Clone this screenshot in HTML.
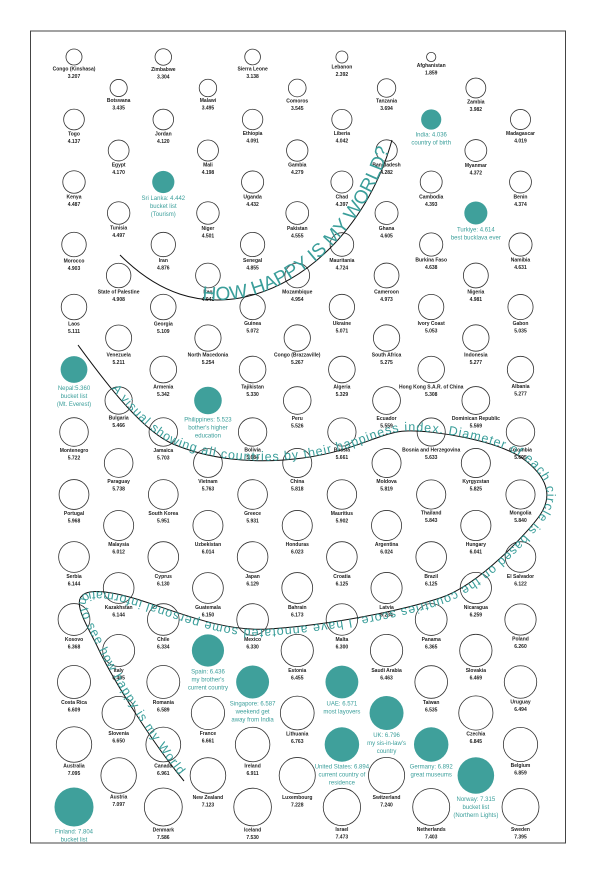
<!DOCTYPE html>
<html><head><meta charset="utf-8">
<style>
html,body{margin:0;padding:0;background:#fff;}
svg{display:block;}
.lbl{font-family:"Liberation Sans",sans-serif;font-size:5px;fill:#222;font-weight:bold;text-anchor:middle;}
.hl{font-family:"Liberation Sans",sans-serif;font-size:6px;fill:#3a9e9a;text-anchor:middle;}
</style></head>
<body>
<svg id="chart" width="596" height="870" viewBox="0 0 596 870">
<rect x="30.5" y="31" width="535" height="812" fill="none" stroke="#444" stroke-width="1"/>
<g id="bubbles"></g>
<path id="arc1" d="M120,255 C160,295 200,305 240,298 C310,285 370,220 392,140" fill="none" stroke="#111" stroke-width="1"/>
<text font-family="Liberation Sans, sans-serif" font-size="19" fill="#3a9e9a"><textPath href="#arc1" startOffset="95">HOW HAPPY IS MY WORLD?</textPath></text>
<path id="arc2" d="M78,345 C100,375 140,430 173,444 S250,465 303,458 S380,432 406,431 S500,440 526,461 S550,500 540,515 S480,585 440,598 S330,625 269,629 S150,597 105,592 S85,620 98,648 S150,740 184,781" fill="none" stroke="#111" stroke-width="1"/>
<text id="sub" font-family="Liberation Sans, sans-serif" font-size="12.5" fill="#3a9e9a"><textPath id="subtp" href="#arc2" startOffset="55">A visual showing all countries by their happiness index. Diameter of each circle is based on the countries score. I have annotated some personal information to see how happy is my World</textPath></text>
</svg>
<script>
// Slot order per band: even columns 0,2,4,6,8,10 then odd columns 1,3,5,7,9
const countries = [
"Congo (Kinshasa)","Zimbabwe","Sierra Leone","Lebanon","Afghanistan","",
"Botswana","Malawi","Comoros","Tanzania","Zambia",
"Togo","Jordan","Ethiopia","Liberia","India","Madagascar",
"Egypt","Mali","Gambia","Bangladesh","Myanmar",
"Kenya","Sri Lanka","Uganda","Chad","Cambodia","Benin",
"Tunisia","Niger","Pakistan","Ghana","Turkiye",
"Morocco","Iran","Senegal","Mauritania","Burkina Faso","Namibia",
"State of Palestine","Iraq","Mozambique","Cameroon","Nigeria",
"Laos","Georgia","Guinea","Ukraine","Ivory Coast","Gabon",
"Venezuela","North Macedonia","Congo (Brazzaville)","South Africa","Indonesia",
"Nepal","Armenia","Tajikistan","Algeria","Hong Kong S.A.R. of China","Albania",
"Bulgaria","Philippines","Peru","Ecuador","Dominican Republic",
"Montenegro","Jamaica","Bolivia","Russia","Bosnia and Herzegovina","Colombia",
"Paraguay","Vietnam","China","Moldova","Kyrgyzstan",
"Portugal","South Korea","Greece","Mauritius","Thailand","Mongolia",
"Malaysia","Uzbekistan","Honduras","Argentina","Hungary",
"Serbia","Cyprus","Japan","Croatia","Brazil","El Salvador",
"Kazakhstan","Guatemala","Bahrain","Latvia","Nicaragua",
"Kosovo","Chile","Mexico","Malta","Panama","Poland",
"Italy","Spain","Estonia","Saudi Arabia","Slovakia",
"Costa Rica","Romania","Singapore","UAE","Taiwan","Uruguay",
"Slovenia","France","Lithuania","UK","Czechia",
"Australia","Canada","Ireland","United States","Germany","Belgium",
"Austria","New Zealand","Luxembourg","Switzerland","Norway",
"Finland","Denmark","Iceland","Israel","Netherlands","Sweden"
];
const scores = [
3.207,3.304,3.138,2.392,1.859,0,
3.435,3.495,3.545,3.694,3.982,
4.137,4.120,4.091,4.042,4.036,4.019,
4.170,4.198,4.279,4.282,4.372,
4.487,4.442,4.432,4.397,4.393,4.374,
4.497,4.501,4.555,4.605,4.614,
4.903,4.876,4.855,4.724,4.638,4.631,
4.908,4.941,4.954,4.973,4.981,
5.111,5.109,5.072,5.071,5.053,5.035,
5.211,5.254,5.267,5.275,5.277,
5.360,5.342,5.330,5.329,5.308,5.277,
5.466,5.523,5.526,5.559,5.569,
5.722,5.703,5.684,5.661,5.633,5.695,
5.738,5.763,5.818,5.819,5.825,
5.968,5.951,5.931,5.902,5.843,5.840,
6.012,6.014,6.023,6.024,6.041,
6.144,6.130,6.129,6.125,6.125,6.122,
6.144,6.150,6.173,6.234,6.259,
6.368,6.334,6.330,6.300,6.365,6.260,
6.405,6.436,6.455,6.463,6.469,
6.609,6.589,6.587,6.571,6.535,6.494,
6.650,6.661,6.763,6.796,6.845,
7.095,6.961,6.911,6.894,6.892,6.859,
7.097,7.123,7.228,7.240,7.315,
7.804,7.586,7.530,7.473,7.403,7.395
];
const notes = {
"India":["India: 4.036","country of birth"],
"Sri Lanka":["Sri Lanka: 4.442","bucket list","(Tourism)"],
"Turkiye":["Turkiye: 4.614","best bucklava ever"],
"Nepal":["Nepal:5.360","bucket list","(Mt. Everest)"],
"Philippines":["Philippines: 5.523","bother's higher","education"],
"Spain":["Spain: 6.436","my brother's","current country"],
"Singapore":["Singapore: 6.587","weekend get","away from India"],
"UAE":["UAE: 6.571","most layovers"],
"UK":["UK: 6.796","my sis-in-law's","country"],
"United States":["United States: 6.894","current country of","residence"],
"Germany":["Germany: 6.892","great museums"],
"Norway":["Norway: 7.315","bucket list","(Northern Lights)"],
"Finland":["Finland: 7.804","bucket list"]
};
const NS="http://www.w3.org/2000/svg";
const g=document.getElementById('bubbles');
const colX=c=>74+44.65*c;
const bandY=(b,odd)=>57+62.5*b+(odd?31:0);
const rScale=s=>2.5*s;
const slotCols=[0,2,4,6,8,10,1,3,5,7,9];
function slug(s){return s.toLowerCase().replace(/[^a-z0-9]+/g,'-').replace(/^-|-$/g,'');}
countries.forEach((name,i)=>{
  if(!name) return;
  const band=Math.floor(i/11), k=i%11, col=slotCols[k], odd=col%2===1;
  const cx=colX(col), cy=bandY(band,odd), r=rScale(scores[i]);
  const note=notes[name];
  const c=document.createElementNS(NS,'circle');
  c.setAttribute('cx',cx);c.setAttribute('cy',cy);c.setAttribute('r',r);
  c.setAttribute('fill',note?'#3fa09b':'none');
  c.setAttribute('stroke',note?'none':'#333');
  c.setAttribute('stroke-width','0.8');
  
  
  g.appendChild(c);
  const lines=note?note:[name,scores[i].toFixed(3)];
  lines.forEach((ln,j)=>{
    const t=document.createElementNS(NS,'text');
    t.setAttribute('x',cx);
    t.setAttribute('y',note? cy+r+7+j*8 : cy+r+5.5+j*7.5);
    t.setAttribute('class',note?'hl':'lbl');
    t.textContent=ln;
    
    
    g.appendChild(t);
  });
});
const p2=document.getElementById('arc2');
const tp=document.getElementById('subtp');
const L=p2.getTotalLength();
tp.setAttribute('textLength',L-55-8);
tp.setAttribute('lengthAdjust','spacing');
</script>
</body></html>
